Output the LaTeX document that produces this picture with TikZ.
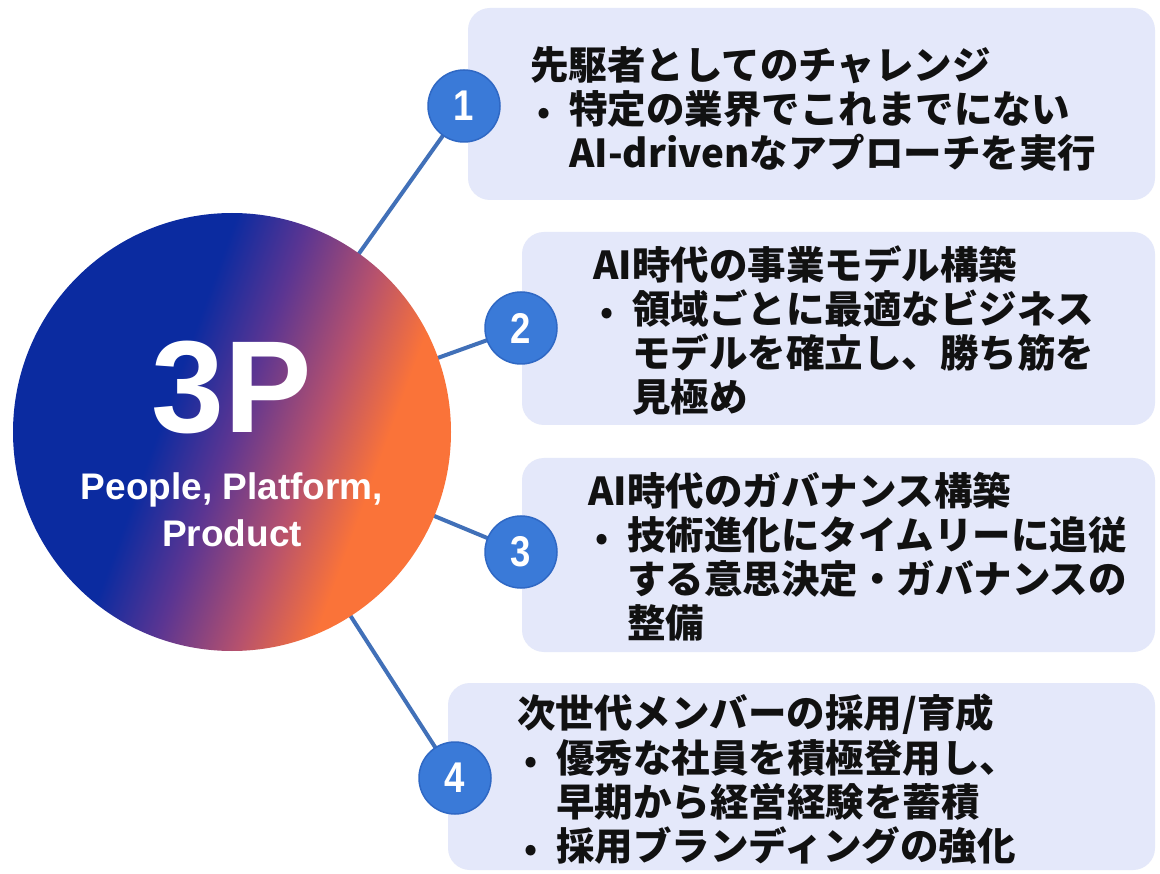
\documentclass[tikz,border=0pt]{standalone}
\usepackage{fontspec}
\newfontfamily\jp{Noto Sans CJK JP}
\newfontfamily\lat{Liberation Sans}

\definecolor{hubblue}{HTML}{0B2BA0}
\definecolor{hubpurple}{HTML}{5B3592}
\definecolor{hubmauve}{HTML}{B5516E}
\definecolor{huborange}{HTML}{FA7339}
\definecolor{panelfill}{HTML}{E4E8FA}
\definecolor{badgefill}{HTML}{3A7AD8}
\definecolor{badgeedge}{HTML}{2F68C4}
\definecolor{linkcol}{HTML}{4170B8}
\definecolor{inkcol}{HTML}{111111}

% hub gradient: deep blue on the left, through purple, to orange
\pgfdeclarehorizontalshading{hubshade}{100bp}{%
  color(0bp)=(hubblue); color(25bp)=(hubblue); color(42bp)=(hubblue);
  color(50bp)=(hubpurple); color(59bp)=(hubmauve); color(67bp)=(huborange);
  color(100bp)=(huborange)}

\newcommand{\bul}[1]{\makebox[39pt][l]{\hspace{7pt}\scalebox{0.85}{•}}#1}
\newcommand{\ind}[1]{\hspace{39pt}#1}
\newcommand{\numtxt}[1]{\scalebox{0.85}[1]{#1}}

\tikzset{
  panel/.style={rectangle, rounded corners=22pt, fill=panelfill, draw=none, inner sep=0pt},
  badge/.style={circle, fill=badgefill, draw=badgeedge, line width=1.5pt,
    minimum size=72pt, inner sep=0pt, text=white,
    font=\lat\bfseries\fontsize{43}{43}\selectfont},
  link/.style={draw=linkcol, line width=4pt},
  line/.style={anchor=base west, inner sep=0pt, text=inkcol,
    font=\jp\bfseries\fontsize{38.5}{44}\selectfont},
  hubtext/.style={anchor=base, inner sep=0pt, text=white}
}

\begin{document}
\begin{tikzpicture}[x=1pt, y=-1pt]
  \useasboundingbox (0,0) rectangle (1160,874);
  \fill[white] (0,0) rectangle (1160,874);

  % text panels
  \node[panel, minimum width=687pt, minimum height=192pt] (p1) at (811.5,104) {};
  \node[panel, minimum width=633pt, minimum height=193pt] (p2) at (838.5,328.5) {};
  \node[panel, minimum width=633pt, minimum height=194pt] (p3) at (838.5,555) {};
  \node[panel, minimum width=707pt, minimum height=187pt] (p4) at (801.5,776.5) {};

  % hub position and connectors
  \coordinate (hc) at (232,432);
  \coordinate (c1) at (464,106);
  \coordinate (c2) at (521,328);
  \coordinate (c3) at (521,552);
  \coordinate (c4) at (455,778);
  \draw[link] (hc) -- (c1);
  \draw[link] (hc) -- (c2);
  \draw[link] (hc) -- (c3);
  \draw[link] (hc) -- (c4);

  % central hub
  \shade[shading=hubshade, shading angle=-20] (hc) circle[radius=219];
  \node[hubtext, font=\lat\bfseries\fontsize{131}{131}\selectfont] (big) at (232,433) {3P};
  \node[hubtext, font=\lat\bfseries\fontsize{37}{37}\selectfont] (sub1) at (232,500) {People, Platform,};
  \node[hubtext, font=\lat\bfseries\fontsize{37}{37}\selectfont] (sub2) at (232,547) {Product};

  % numbered badges
  \node[badge] (b1) at (c1) {\numtxt{1}};
  \node[badge] (b2) at (c2) {\numtxt{2}};
  \node[badge] (b3) at (c3) {\numtxt{3}};
  \node[badge] (b4) at (c4) {\numtxt{4}};

  % panel 1
  \node[line] (t1a) at (530,80) {先駆者としてのチャレンジ};
  \node[line] (t1b) at (530,124) {\bul{特定の業界でこれまでにない}};
  \node[line] (t1c) at (530,168) {\ind{AI-drivenなアプローチを実行}};

  % panel 2
  \node[line] (t2a) at (593,280) {AI時代の事業モデル構築};
  \node[line] (t2b) at (593,324) {\bul{領域ごとに最適なビジネス}};
  \node[line] (t2c) at (593,368) {\ind{モデルを確立し、勝ち筋を}};
  \node[line] (t2d) at (593,412) {\ind{見極め}};

  % panel 3
  \node[line] (t3a) at (588,505) {AI時代のガバナンス構築};
  \node[line] (t3b) at (588,549) {\bul{技術進化にタイムリーに追従}};
  \node[line] (t3c) at (588,593) {\ind{する意思決定・ガバナンスの}};
  \node[line] (t3d) at (588,637) {\ind{整備}};

  % panel 4
  \node[line] (t4a) at (517,727) {次世代メンバーの採用/育成};
  \node[line] (t4b) at (517,772) {\bul{優秀な社員を積極登用し、}};
  \node[line] (t4c) at (517,816) {\ind{早期から経営経験を蓄積}};
  \node[line] (t4d) at (517,860) {\bul{採用ブランディングの強化}};
\end{tikzpicture}
\end{document}
